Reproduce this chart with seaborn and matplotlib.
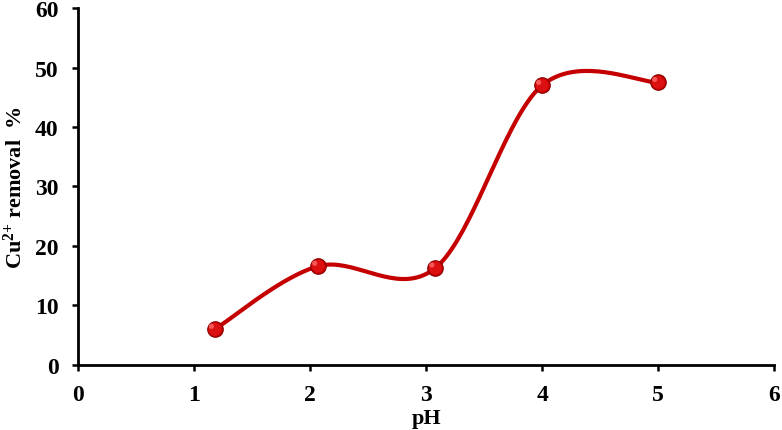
import numpy as np
import pandas as pd
import matplotlib
matplotlib.use("Agg")
import matplotlib.pyplot as plt
import seaborn as sns

ph = [1.18, 2.07, 3.08, 4.0, 5.0]
removal = [6.0, 16.6, 16.3, 47.0, 47.5]
x_ticks = [0, 1, 2, 3, 4, 5, 6]
y_ticks = [0, 10, 20, 30, 40, 50, 60]

sns.set_theme(style="white")
plt.rcParams['font.family'] = ['Liberation Serif', 'DejaVu Serif']
plt.rcParams['font.weight'] = 'bold'
plt.rcParams['text.color'] = 'black'
plt.rcParams['axes.labelcolor'] = 'black'
plt.rcParams['xtick.color'] = 'black'
plt.rcParams['ytick.color'] = 'black'
plt.rcParams['mathtext.fontset'] = 'custom'
plt.rcParams['mathtext.rm'] = 'Liberation Serif:bold'
plt.rcParams['mathtext.bf'] = 'Liberation Serif:bold'
plt.rcParams['mathtext.default'] = 'bf'


def smooth(xs, ys, n=40):
    # Excel-like smoothed line: cubic Bezier with Catmull-Rom control points
    P = np.column_stack([xs, ys]).astype(float)
    out = []
    m = len(P)
    for i in range(m - 1):
        p0 = P[i - 1] if i > 0 else P[i]
        p1 = P[i]
        p2 = P[i + 1]
        p3 = P[i + 2] if i + 2 < m else P[i + 1]
        c1 = p1 + (p2 - p0) / 6.0
        c2 = p2 - (p3 - p1) / 6.0
        t = np.linspace(0, 1, n)[:, None]
        seg = ((1 - t) ** 3) * p1 + 3 * ((1 - t) ** 2) * t * c1 + 3 * (1 - t) * t ** 2 * c2 + t ** 3 * p2
        if i > 0:
            seg = seg[1:]
        out.append(seg)
    out = np.vstack(out)
    return out[:, 0], out[:, 1]


sx, sy = smooth(ph, removal)
curve = pd.DataFrame({"pH": sx, "removal": sy})
pts = pd.DataFrame({"pH": ph, "removal": removal})

fig = plt.figure(figsize=(7.82, 4.31), dpi=100)
ax = fig.add_axes([0.0997, 0.151, 0.8903, 0.828])

sns.lineplot(data=curve, x="pH", y="removal", sort=False, color="#c40000",
             linewidth=3.0, ax=ax, zorder=2)
sns.scatterplot(data=pts, x="pH", y="removal", s=125, color="#c80000",
                edgecolor="#8a0000", linewidth=0.8, ax=ax, zorder=3)
sns.scatterplot(data=pts, x="pH", y="removal", s=85, color="#dc1010",
                edgecolor="none", ax=ax, zorder=4)
hx = [v - 0.03 for v in ph]
hy = [v + 0.5 for v in removal]
ax.scatter(hx, hy, s=14, color="#ff6a6a", edgecolor="none", zorder=5, alpha=0.8)

ax.set_xlim(0, 6)
ax.set_ylim(0, 60)
ax.set_xticks(x_ticks)
ax.set_yticks(y_ticks)
ax.set_xticklabels([str(v) for v in x_ticks], fontsize=17, fontweight='bold')
ax.set_yticklabels([str(v) for v in y_ticks], fontsize=17, fontweight='bold')
ax.tick_params(axis='both', direction='out', length=4, width=1.8, color='black',
               bottom=True, left=True)
ax.tick_params(axis='y', pad=10)
ax.tick_params(axis='x', pad=10)
for s in ['top', 'right']:
    ax.spines[s].set_visible(False)
for s in ['left', 'bottom']:
    ax.spines[s].set_linewidth(2.0)
    ax.spines[s].set_color('black')

ax.set_xlabel("pH", fontsize=16, fontweight='bold', labelpad=2)
ax.set_ylabel(r"Cu$^{2{+}}$ removal  %", fontsize=16, fontweight='bold', labelpad=6)
ax.grid(False)

fig.savefig("out.png", dpi=100)
